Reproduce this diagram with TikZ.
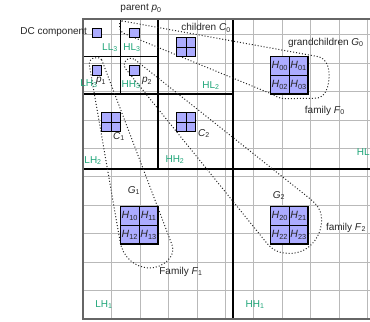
\documentclass[tikz,border=0pt]{standalone}
\usepackage{fontspec}
\setmainfont{Liberation Sans}
\usetikzlibrary{positioning}

\definecolor{bandGreen}{RGB}{30,165,120}
\definecolor{coefBlue}{RGB}{172,172,255}
\newcommand{\hsub}[2]{\textit{#1}\textsubscript{#2}}
\newcommand{\band}[2]{#1\textsubscript{#2}}

\begin{document}
\begin{tikzpicture}[
    x=9.375pt, y=9.375pt,
    gridLine/.style={gray!55, line width=0.6pt},
    bandLine/.style={black, line width=1.5pt},
    frameLine/.style={black!60, line width=1.8pt},
    familyLoop/.style={black!85, dotted, line width=1pt},
    coefNode/.style={draw=black, fill=coefBlue, line width=1.2pt, minimum size=9.375pt, inner sep=0pt},
    blockNode/.style={coefNode, minimum size=18.75pt, text=black!85, font=\fontsize{10.5}{12}\selectfont},
    bandLabel/.style={text=bandGreen, font=\fontsize{10}{12}\selectfont, inner sep=0pt},
    textLabel/.style={text=black!85, font=\fontsize{10}{12}\selectfont, inner sep=0pt}]

  \useasboundingbox (-8.853,-0.213) rectangle (30.613,34.027);
  \clip (-8.853,-0.213) rectangle (30.613,34.027);

  % 32x32 coefficient grid
  \draw[gridLine] (0,0) grid (32,32);

  % Subband borders, three levels
  \draw[bandLine] (16,0) -- (16,32) (0,16) -- (32,16);
  \draw[bandLine] (8,16) -- (8,32) (0,24) -- (16,24);
  \draw[bandLine] (4,24) -- (4,32) (0,28) -- (8,28);
  \draw[frameLine] (0,0) rectangle (32,32);

  % Families
  \draw[familyLoop] (4.15,31.8) -- (25.0,28.0) to[out=-10,in=90] (26.25,26.0)
    to[out=-90,in=0] (24.8,23.55) -- (21.5,23.5) to[out=180,in=-22] (20.0,24.05)
    -- (4.4,30.45) to[out=158,in=-90] (3.9,31.1) to[out=90,in=170] (4.15,31.8);
  \draw[familyLoop] (1.99,27.66) -- (9.5,7.9) to[out=-69,in=0] (7.15,5.45)
    to[out=180,in=-80] (3.95,8.28) -- (0.67,27.12) to[out=100,in=180] (1.28,27.85)
    to[out=0,in=111] (1.99,27.66);
  \draw[familyLoop] (5.55,27.66) -- (24.0,13.0) to[out=-38.5,in=90] (25.45,10.6)
    to[out=-90,in=0] (22.1,7.0) to[out=180,in=-51] (19.6,8.1) -- (4.48,26.77)
    to[out=129,in=180] (5.01,27.8) to[out=0,in=141.5] (5.55,27.66);

  % Coefficients
  \node[coefNode] (dc) at (1.5,30.5) {};
  \node[coefNode] (p0) at (5.5,30.5) {};
  \node[coefNode] (p1) at (1.5,26.5) {};
  \node[coefNode] (p2) at (5.5,26.5) {};

  \foreach \name/\x/\y in {c0/11/29, c1/3/21, c2/11/21} {
    \node[coefNode, minimum size=18.75pt] (\name) at (\x,\y) {};
    \draw[line width=1.2pt] (\name.north) -- (\name.south) (\name.west) -- (\name.east);
  }

  \foreach \g/\x/\y in {0/22/26, 1/6/10, 2/22/10} {
    \node[blockNode] (h\g0) at (\x-1,\y+1) {\hsub{H}{\g0}};
    \node[blockNode] (h\g1) at (\x+1,\y+1) {\hsub{H}{\g1}};
    \node[blockNode] (h\g2) at (\x-1,\y-1) {\hsub{H}{\g2}};
    \node[blockNode] (h\g3) at (\x+1,\y-1) {\hsub{H}{\g3}};
  }

  % Subband names
  \node[bandLabel] (ll3) at (2.88,28.94) {\band{LL}{3}};
  \node[bandLabel] (hl3) at (5.23,28.94) {\band{HL}{3}};
  \node[bandLabel] (lh3) at (0.64,25.1) {\band{LH}{3}};
  \node[bandLabel] (hh3) at (5.12,25.0) {\band{HH}{3}};
  \node[bandLabel] (lh2) at (1.07,16.9) {\band{LH}{2}};
  \node[bandLabel] (hl2) at (13.65,24.9) {\band{HL}{2}};
  \node[bandLabel] (hh2) at (9.81,17.0) {\band{HH}{2}};
  \node[bandLabel, anchor=west] (hl1) at (29.2,17.7) {\band{HL}{1}};
  \node[bandLabel] (lh1) at (2.24,1.53) {\band{LH}{1}};
  \node[bandLabel] (hh1) at (18.35,1.53) {\band{HH}{1}};

  % Names of the coefficients
  \node[textLabel] (parentLbl) at (6.19,33.1) {parent \hsub{p}{0}};
  \node[textLabel, anchor=east] (dcLbl) at (0.45,30.65) {DC component};
  \node[textLabel] (p1Lbl) at (1.92,25.4) {\hsub{p}{1}};
  \node[textLabel] (p2Lbl) at (6.83,25.4) {\hsub{p}{2}};
  \node[textLabel] (c0Lbl) at (13.12,31.07) {children \hsub{C}{0}};
  \node[textLabel] (c1Lbl) at (3.84,19.45) {\hsub{C}{1}};
  \node[textLabel] (c2Lbl) at (12.9,19.77) {\hsub{C}{2}};
  \node[textLabel] (g0Lbl) at (25.9,29.5) {grandchildren \hsub{G}{0}};
  \node[textLabel] (g1Lbl) at (5.44,13.69) {\hsub{G}{1}};
  \node[textLabel] (g2Lbl) at (20.9,13.15) {\hsub{G}{2}};
  \node[textLabel] (f0Lbl) at (25.8,22.2) {family \hsub{F}{0}};
  \node[textLabel] (f1Lbl) at (10.45,5.05) {Family \hsub{F}{1}};
  \node[textLabel] (f2Lbl) at (28.05,9.74) {family \hsub{F}{2}};

\end{tikzpicture}
\end{document}
